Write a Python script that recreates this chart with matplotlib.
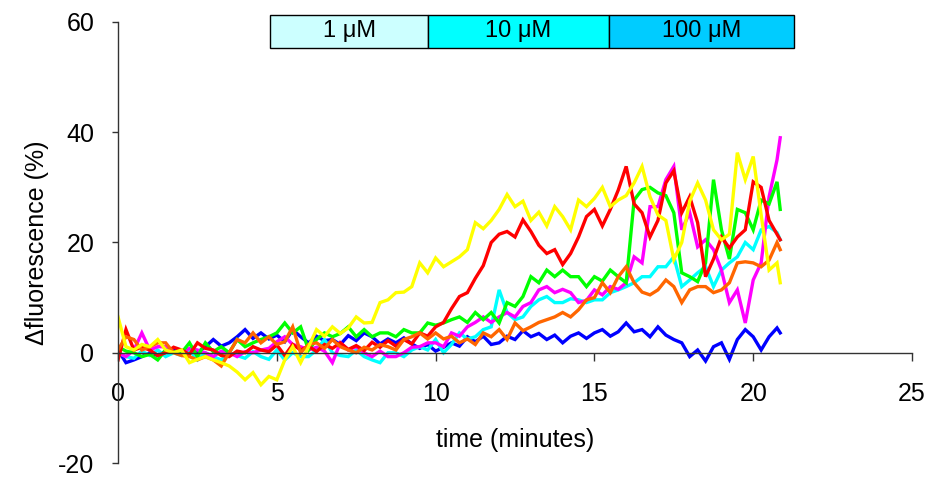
import numpy as np
import matplotlib
matplotlib.use("Agg")
import matplotlib.pyplot as plt
from matplotlib.patches import Rectangle

plt.rcParams['font.family'] = ['Liberation Sans', 'DejaVu Sans']
plt.rcParams['axes.unicode_minus'] = False

# sampling times (minutes): every 0.25 min plus the last reading
time_min = list(np.arange(84) * 0.25) + [20.85]

# delta fluorescence (%) per cell
blue = [0.5, -1.8, -1.3, -0.7, 0.0, -0.5, 0.3, 0.5, -0.2, 0.4, 0.1, 1.1,
        2.4, 1.2, 1.8, 2.9, 4.2, 2.6, 3.6, 2.5, 3.2, 2.0, 4.2, 2.9,
        1.8, 3.0, 2.2, 2.4, 1.5, 3.1, 2.2, 3.6, 2.9, 1.6, 2.5, 1.8,
        2.7, 1.6, 0.8, 1.5, 0.3, 1.0, 1.8, 1.2, 2.9, 2.0, 3.0, 1.5,
        1.8, 3.0, 2.4, 4.0, 2.9, 3.5, 2.4, 3.2, 1.8, 3.0, 3.6, 2.6,
        3.6, 4.2, 3.0, 3.8, 5.4, 3.8, 4.2, 2.9, 4.7, 3.2, 2.4, 1.8,
        -0.7, 0.5, -1.5, 1.1, 1.8, -1.2, 2.4, 4.2, 2.9, 0.5, 2.9, 4.5, 3.6]
red = [-1.3, 4.2, 0.5, 1.0, 0.5, -0.5, 0.0, 1.0, 0.5, -0.3, 1.8, 0.8,
       0.5, -0.5, -0.7, 0.3, 0.0, 1.1, 0.5, 0.2, 1.4, -0.5, 1.5, 0.5,
       1.2, 0.2, 1.5, 0.8, 1.8, 0.6, 1.3, 0.4, 1.9, 1.0, 2.2, 1.2,
       2.4, 1.6, 3.6, 3.0, 4.7, 5.5, 8.0, 10.2, 10.9, 13.5, 15.8, 20.0,
       21.5, 22.0, 21.0, 24.1, 22.0, 19.5, 18.0, 18.7, 16.0, 18.0, 21.0, 24.7,
       26.0, 23.0, 26.0, 29.5, 33.8, 27.0, 25.4, 21.0, 24.0, 30.8, 33.0, 25.4,
       28.3, 23.6, 13.8, 17.0, 21.0, 19.0, 21.0, 22.3, 31.0, 30.0, 24.0, 21.5, 20.5]
yellow = [6.5, 1.1, 0.5, 1.5, 1.1, 2.4, 0.5, 0.0, 0.5, -1.8, -1.2, -0.7,
          -1.3, -1.8, -2.4, -3.5, -4.9, -3.6, -5.8, -4.3, -4.9, -1.3, 1.1, -1.8,
          1.1, 4.2, 3.0, 4.7, 3.5, 4.5, 6.5, 5.4, 5.5, 9.1, 9.6, 10.9,
          11.0, 12.0, 16.3, 14.5, 17.2, 15.6, 16.5, 17.4, 18.7, 23.6, 22.5, 24.0,
          26.0, 28.7, 26.5, 27.5, 24.0, 25.5, 23.0, 26.5, 24.7, 22.3, 27.7, 26.5,
          28.0, 30.0, 26.5, 27.7, 28.5, 30.8, 33.8, 28.3, 25.0, 24.0, 16.9, 20.0,
          27.5, 30.8, 27.7, 22.3, 20.5, 21.5, 36.3, 31.4, 35.6, 25.0, 15.0, 16.3, 12.7]
green = [1.1, 0.3, 0.0, -0.7, -0.3, -1.3, 0.5, 0.2, 0.0, 1.8, -0.7, 1.8,
         0.2, 1.1, 0.0, 2.4, 1.1, 1.8, 2.4, 2.9, 3.6, 5.4, 3.6, 4.7,
         0.5, 2.4, 3.6, 2.9, 3.5, 4.7, 2.9, 4.2, 2.9, 3.6, 3.6, 2.9,
         4.2, 3.6, 3.6, 5.4, 5.0, 5.4, 6.0, 6.5, 5.5, 7.3, 6.0, 7.3,
         5.4, 9.1, 8.4, 10.2, 13.8, 12.7, 15.0, 13.8, 15.0, 13.8, 13.8, 12.0,
         13.8, 13.0, 15.0, 13.8, 12.7, 27.7, 29.6, 30.0, 29.0, 28.5, 25.4, 14.5,
         13.8, 12.9, 16.3, 31.4, 22.3, 17.0, 26.0, 25.4, 22.3, 27.7, 27.0, 31.0, 26.0]
magenta = [0.0, -0.7, 0.5, 3.6, 0.5, 1.1, 1.1, 0.2, 0.0, 0.8, 0.5, 0.0,
           -0.7, 0.3, 0.0, -0.7, 0.2, 0.0, 0.5, 0.8, 2.0, 2.9, 1.5, 1.1,
           0.5, 1.0, 0.3, -1.8, 1.8, 0.5, 1.1, 0.0, -0.7, 0.3, -0.7, -0.7,
           0.0, 1.0, 1.1, 1.8, 1.8, 1.1, 3.6, 3.0, 4.7, 5.5, 6.5, 5.5,
           6.5, 7.3, 6.5, 8.4, 9.1, 11.4, 12.0, 10.9, 11.5, 10.9, 9.1, 9.5,
           11.4, 10.5, 12.0, 11.5, 12.7, 17.4, 16.3, 26.5, 26.5, 31.4, 33.8, 22.3,
           25.4, 19.2, 20.5, 18.7, 15.0, 9.1, 11.4, 5.4, 13.2, 16.3, 28.3, 35.0, 39.0]
cyan = [0.0, -0.7, -1.0, 0.3, -0.5, 0.5, -0.7, 0.0, -0.5, 0.5, -1.3, 0.0,
        -0.7, -1.3, 0.0, -0.5, -1.0, 0.2, -0.7, -1.2, 0.5, -1.3, 0.0, -0.7,
        -0.7, 0.5, 2.4, 0.0, -0.5, -0.7, 0.5, -0.7, -1.3, -1.8, 0.0, 0.0,
        -0.7, 0.5, 1.1, 0.5, 2.4, 0.0, 1.5, 3.6, 2.5, 2.9, 4.2, 4.7,
        11.4, 7.3, 6.0, 6.5, 8.4, 9.6, 10.2, 9.1, 9.1, 9.8, 9.6, 9.1,
        9.6, 9.6, 10.9, 11.4, 12.0, 12.7, 13.8, 13.8, 15.6, 15.6, 17.4, 12.0,
        13.2, 14.5, 15.6, 12.0, 15.0, 16.3, 17.4, 20.0, 18.7, 22.3, 22.9, 21.8, 20.5]
orange = [0.5, 2.9, 2.4, 0.5, 1.1, 1.8, 1.8, 0.0, -0.5, -0.7, -1.3, -0.7,
          -1.3, -2.4, 0.0, 2.4, 1.8, 3.6, 1.8, 2.9, 1.5, 2.0, 4.7, 0.0,
          1.5, 1.8, 0.8, 2.4, 1.1, 0.5, 0.0, 1.0, 0.5, 1.5, 1.1, 0.5,
          2.4, 2.9, 3.6, 2.5, 3.6, 2.5, 3.0, 1.8, 2.5, 1.5, 3.6, 2.9,
          4.2, 2.4, 5.4, 4.0, 4.7, 5.5, 6.0, 6.5, 7.3, 6.5, 7.8, 9.6,
          10.0, 12.7, 10.9, 13.8, 15.6, 12.7, 11.0, 10.5, 11.4, 13.2, 12.0, 9.1,
          11.4, 12.0, 12.0, 10.9, 11.4, 12.7, 16.3, 16.5, 16.3, 15.6, 16.8, 20.0, 18.7]

series = [(blue, '#0000FF'), (cyan, '#00FFFF'), (magenta, '#FF00FF'),
          (green, '#00FF00'), (red, '#FF0000'), (orange, '#FF6600'),
          (yellow, '#FFFF00')]

# agonist concentration steps shown as the bar over the traces
dose_labels = ['1 \u03bcM', '10 \u03bcM', '100 \u03bcM']
dose_edges = [4.8, 9.75, 15.45, 21.3]
dose_colors = ['#CCFFFF', '#00FFFF', '#00CCFF']

fig = plt.figure(figsize=(9.33, 4.82), dpi=100)
ax = fig.add_axes([0.1265, 0.0394, 0.851, 0.915])

for vals, col in series:
    ax.plot(time_min, vals, color=col, lw=2.4, solid_joinstyle='miter')

for lab, x0, x1, col in zip(dose_labels, dose_edges[:-1], dose_edges[1:], dose_colors):
    ax.add_patch(Rectangle((x0, 55.3), x1 - x0, 6.0, facecolor=col,
                           edgecolor='black', lw=1.0, clip_on=False, zorder=5))
    ax.text((x0 + x1) / 2, 58.3, lab, ha='center', va='center',
            fontsize=17, zorder=6)

ax.set_xlim(0, 25)
ax.set_ylim(-20, 60)
ax.set_xticks([0, 5, 10, 15, 20, 25])
ax.set_yticks([-20, 0, 20, 40, 60])

ax.spines['top'].set_visible(False)
ax.spines['right'].set_visible(False)
ax.spines['bottom'].set_position(('data', 0))
for sp in ('left', 'bottom'):
    ax.spines[sp].set_linewidth(1.0)
    ax.spines[sp].set_color('#333333')

ax.tick_params(axis='x', direction='out', length=6, width=1.0, pad=15,
               labelsize=18, color='#333333')
ax.tick_params(axis='y', direction='out', length=4, width=1.0, pad=13,
               labelsize=18, color='#333333')

ax.set_xlabel('time (minutes)', fontsize=18)
ax.xaxis.set_label_coords(0.5, 0.08)
ax.set_ylabel('\u0394fluorescence (%)', fontsize=18)
ax.yaxis.set_label_coords(-0.087, 0.5)

fig.savefig('out.png', dpi=100)
